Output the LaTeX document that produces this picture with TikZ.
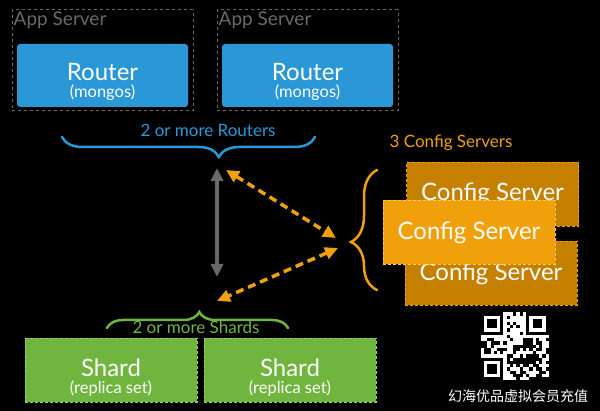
\documentclass[tikz,border=0pt]{standalone}
\usepackage{fontspec}
\setmainfont{Lato}
\newfontfamily\cjk{Noto Sans CJK SC}
\usetikzlibrary{arrows, arrows.meta, calc, positioning, decorations.pathreplacing}
\definecolor{myblue}{RGB}{42, 152, 214}
\definecolor{mygreen}{RGB}{112, 182, 62}
\definecolor{mylightgreen}{RGB}{150, 210, 100}
\definecolor{myorange}{RGB}{240, 160, 10}
\definecolor{mylightorange}{RGB}{255, 205, 90}
\definecolor{mydarkorange}{RGB}{198, 128, 0}
\definecolor{mygray}{RGB}{105, 105, 105}

\begin{document}
\begin{tikzpicture}[x=1pt,y=-1pt,>={Triangle[length=13pt,width=12pt]},
	appbox/.style={draw=mygray, dashed, line width=1pt, minimum width=181pt, minimum height=101pt, inner sep=0pt},
	routerbox/.style={fill=myblue, rounded corners=3pt, minimum width=171pt, minimum height=63pt},
	boxtext/.style={text=white, align=center, font=\fontsize{24}{17}\selectfont},
	cfgback/.style={fill=mydarkorange, draw=myorange, densely dashed, line width=0.8pt, minimum width=172pt, minimum height=64pt, text=white, font=\fontsize{24}{24}\selectfont},
	cfgfront/.style={cfgback, fill=myorange, draw=mylightorange},
	shardbox/.style={fill=mygreen, draw=mylightgreen, densely dashed, line width=0.8pt, minimum width=172pt, minimum height=64pt},
	bracelabel/.style={font=\fontsize{17}{17}\selectfont},
	curly/.style={decorate, line width=2.5pt, line cap=round},
	sub/.style={font=\fontsize{14}{14}\selectfont}
	]
	
	% background
	\fill[black] (0,0) rectangle (600,411);
	
	% app servers and routers
	\node[appbox] (app1) at (102.5,60.5) {};
	\node[appbox] (app2) at (307.5,60.5) {};
	\node[text=mygray, anchor=north west, inner sep=2pt, font=\fontsize{19}{19}\selectfont] (app1label) at (app1.north west) {App Server};
	\node[text=mygray, anchor=north west, inner sep=2pt, font=\fontsize{19}{19}\selectfont] (app2label) at (app2.north west) {App Server};
	\node[routerbox] (router1) at (102.5,75.5) {};
	\node[routerbox] (router2) at (307.5,75.5) {};
	\node[boxtext] (router1text) at ($(router1)+(0,6)$) {Router\\{\fontsize{16.5}{16.5}\selectfont (mongos)}};
	\node[boxtext] (router2text) at ($(router2)+(0,6)$) {Router\\{\fontsize{16.5}{16.5}\selectfont (mongos)}};
	
	% config servers
	\node[cfgback] (cfg1) at (492.5,194) {Config Server};
	\node[cfgback] (cfg3) at (491,273.5) {Config Server};
	\node[cfgfront] (cfg2) at (469,232.5) {Config Server};
	\node[text=myorange, bracelabel] (cfglabel) at (451,143) {3 Config Servers};
	
	% shards
	\node[shardbox] (shard1) at (111,370) {};
	\node[shardbox] (shard2) at (290,370) {};
	\node[boxtext] (shard1text) at ($(shard1)+(0,8)$) {Shard\\{\fontsize{16.5}{16.5}\selectfont (replica set)}};
	\node[boxtext] (shard2text) at ($(shard2)+(0,8)$) {Shard\\{\fontsize{16.5}{16.5}\selectfont (replica set)}};
	
	% braces
	\draw[curly, myblue, decoration={brace, amplitude=20pt, aspect=0.38}] (315,137) -- (62,137);
	\node[text=myblue, bracelabel] (rtrlabel) at (208,130) {2 or more Routers};
	\draw[curly, myorange, decoration={brace, amplitude=26pt, aspect=0.4}] (377,290) -- (377,170);
	\draw[curly, mygreen, decoration={brace, amplitude=16pt, aspect=0.51}] (107,328) -- (288,328);
	\node[text=mygreen, bracelabel] (shdlabel) at (196,327) {2 or more Shards};
	
	% arrow ends
	\coordinate (rtrtip) at (226,170);
	\coordinate (shdtip) at (217,301);
	\coordinate (cfgtop) at (336,238);
	\coordinate (cfgbot) at (338,248);
	\coordinate (rtrmid) at (217,168);
	\coordinate (shdmid) at (217,277);
	
	% arrows
	\draw[<->, mygray, line width=4pt] (rtrmid) -- (shdmid);
	\draw[<->, myorange, line width=3.5pt, dash pattern=on 8pt off 5pt] (rtrtip) -- (cfgtop);
	\draw[<->, myorange, line width=3.5pt, dash pattern=on 8pt off 5pt] (cfgbot) -- (shdtip);
	
	% qr code
	\node[fill=white, minimum size=68pt, inner sep=0pt] (qr) at (515,346.5) {};
	\pgfmathsetseed{17}
	\foreach \i in {0,...,20}{
		\foreach \j in {0,...,20}{
			\pgfmathtruncatemacro\bit{(rnd<0.5)*(1-((\i<8)&&(\j<8)))*(1-((\i>12)&&(\j<8)))*(1-((\i<8)&&(\j>12)))}
			\ifnum\bit=1 \fill[black] ($(qr.north west)+(\i*3.24,\j*3.24)$) rectangle +(3.24,3.24);\fi
		}
	}
	\foreach \cx/\cy in {0/0, 14/0, 0/14}{
		\fill[black] ($(qr.north west)+(\cx*3.24,\cy*3.24)$) rectangle +(7*3.24,7*3.24);
		\fill[white] ($(qr.north west)+(\cx*3.24+3.24,\cy*3.24+3.24)$) rectangle +(5*3.24,5*3.24);
		\fill[black] ($(qr.north west)+(\cx*3.24+6.48,\cy*3.24+6.48)$) rectangle +(3*3.24,3*3.24);
	}
	\node[text=white, font=\cjk\fontsize{14}{14}\selectfont] (mark) at (518,396) {幻海优品虚拟会员充值};
	
\end{tikzpicture}
\end{document}
